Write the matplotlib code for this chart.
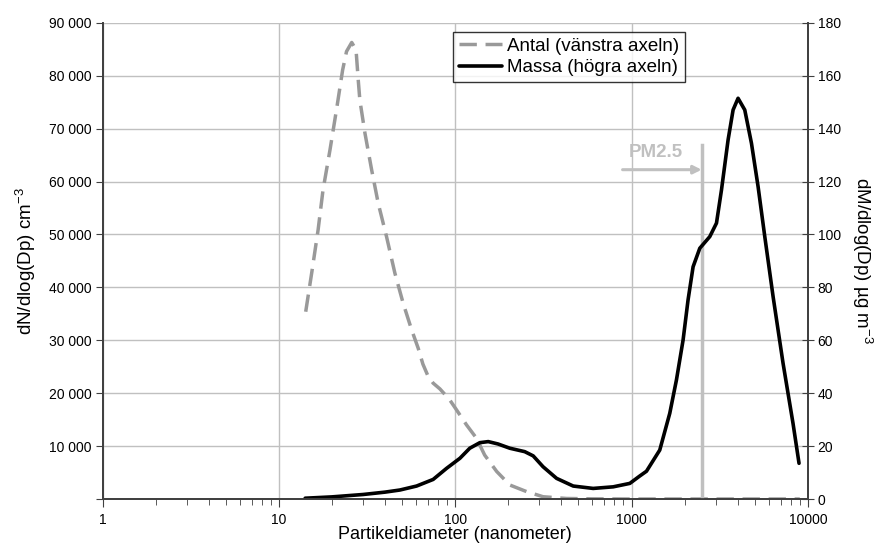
import matplotlib
matplotlib.use("Agg")
import matplotlib.pyplot as plt
from matplotlib.ticker import FixedLocator, LogLocator, NullFormatter

plt.rcParams["font.family"] = ["Liberation Sans", "DejaVu Sans"]
plt.rcParams["mathtext.default"] = "regular"

# Antal (number distribution, left axis)
antal_dp = [14.2, 15.4, 16.7, 17.8, 19.5, 21.3, 23.0, 24.2, 25.9, 27.4, 28.2,
            28.8, 30.8, 33.6, 36.6, 40.8, 45.5, 50.7, 56.6, 61.7, 65.6, 70,
            75, 82, 90, 93.3, 102, 116, 132, 147, 172, 204, 254, 315, 428,
            600, 1000, 2000, 5000, 9000]
antal_n = [35400, 43000, 50900, 58400, 66000, 73900, 81100, 84600, 86300,
           84900, 79200, 75400, 69100, 62200, 55900, 49600, 42700, 37000,
           32000, 28500, 25500, 23300, 21900, 20800, 19300, 18700, 16800,
           14000, 11500, 8300, 5200, 2650, 1400, 430, 100, 30, 0, 0, 0, 0]

# Massa (mass distribution, right axis)
massa_dp = [14.1, 20, 30, 40, 48.6, 60.4, 75.0, 89.4, 106.4, 121, 138, 154,
            175, 204, 248, 277, 315, 376, 467, 606, 787, 978, 1114, 1216,
            1446, 1648, 1798, 1961, 2093, 2235, 2439, 2779, 3033, 3237, 3530,
            3768, 4021, 4388, 4789, 5222, 5699, 6353, 7236, 8240, 8913]
massa_m = [0.3, 0.8, 1.7, 2.6, 3.4, 4.9, 7.4, 11.6, 15.4, 19.2, 21.3, 21.7,
           20.8, 19.2, 17.9, 16.3, 12.2, 7.8, 4.9, 4.0, 4.6, 5.9, 8.7, 10.5,
           18.5, 32.4, 45, 60.1, 75.3, 87.8, 94.8, 99.2, 104.3, 116.8, 135.8,
           147.1, 151.5, 147.1, 134.5, 118.1, 99.2, 76.5, 51.3, 28.6, 13.5]

pm25_x = 2500
pm25_top = 133.7
arrow_start = 890
arrow_y = 124.5

left_ticks = [0, 10000, 20000, 30000, 40000, 50000, 60000, 70000, 80000, 90000]
left_labels = ["", "10 000", "20 000", "30 000", "40 000", "50 000",
               "60 000", "70 000", "80 000", "90 000"]
right_ticks = [0, 20, 40, 60, 80, 100, 120, 140, 160, 180]
x_ticks = [1, 10, 100, 1000, 10000]
x_labels = ["1", "10", "100", "1000", "10000"]

fig = plt.figure(figsize=(8.8, 5.45), dpi=100)
ax = fig.add_axes([0.1165, 0.0844, 0.8015, 0.8736])
ax2 = ax.twinx()

grid_c = "#c0c0c0"
spine_c = "#404040"

ax.set_xscale("log")
ax.set_xlim(1, 10000)
ax.set_ylim(0, 90000)
ax2.set_ylim(0, 180)

ax.set_yticks(left_ticks)
ax.set_yticklabels(left_labels, fontsize=10)
ax2.set_yticks(right_ticks)
ax2.set_yticklabels([str(t) for t in right_ticks], fontsize=10)
ax.xaxis.set_major_locator(FixedLocator(x_ticks))
ax.set_xticklabels(x_labels, fontsize=10)
ax.xaxis.set_minor_locator(LogLocator(base=10, subs=range(2, 10)))
ax.xaxis.set_minor_formatter(NullFormatter())

ax.grid(True, which="major", color=grid_c, lw=1)
ax.set_axisbelow(True)

for a in (ax, ax2):
    a.spines["top"].set_visible(False)
    for s in ("left", "right", "bottom"):
        a.spines[s].set_color(spine_c)
        a.spines[s].set_linewidth(1.3)
ax.tick_params(axis="y", direction="out", length=5, color=spine_c, pad=3)
ax2.tick_params(axis="y", direction="inout", length=8, color=spine_c, pad=3)
ax.tick_params(axis="x", which="major", direction="out", length=6, color=spine_c, pad=4)
ax.tick_params(axis="x", which="minor", direction="out", length=4, color=spine_c)

l1, = ax.plot(antal_dp, antal_n, color="#999999", lw=2.5, dashes=(5, 2.5),
              solid_capstyle="butt", solid_joinstyle="round",
              label="Antal (vänstra axeln)")

# PM2.5 marker
ax2.plot([pm25_x, pm25_x], [0.8, pm25_top], color="#c0c0c0", lw=2.5, zorder=1)
ax2.annotate("", xy=(pm25_x, arrow_y), xytext=(arrow_start, arrow_y),
             arrowprops=dict(arrowstyle="-|>", color="#c0c0c0", lw=2.2,
                             mutation_scale=12, shrinkA=0, shrinkB=0))
ax2.text(1370, 131, "PM2.5", color="#c0c0c0", fontsize=13.5, fontweight="bold",
         ha="center", va="center")

l2, = ax2.plot(massa_dp, massa_m, color="black", lw=2.6,
               solid_joinstyle="round", solid_capstyle="round",
               label="Massa (högra axeln)")

ax.set_xlabel("Partikeldiameter (nanometer)", fontsize=13, labelpad=-1)
ax.set_ylabel("dN/dlog(Dp) cm$^{-3}$", fontsize=13.5, labelpad=8)
ax2.set_ylabel("dM/dlog(Dp) µg m$^{-3}$", fontsize=13.5, rotation=270, labelpad=24)

leg = ax2.legend(handles=[l1, l2], loc="upper left", bbox_to_anchor=(0.497, 0.981),
                 borderaxespad=0, fontsize=13.5, frameon=True, fancybox=False,
                 handlelength=2.3, handletextpad=0.3, borderpad=0.3,
                 labelspacing=0.25)
leg.get_frame().set_edgecolor("black")
leg.get_frame().set_linewidth(1.0)

fig.savefig("out.png", dpi=100)
